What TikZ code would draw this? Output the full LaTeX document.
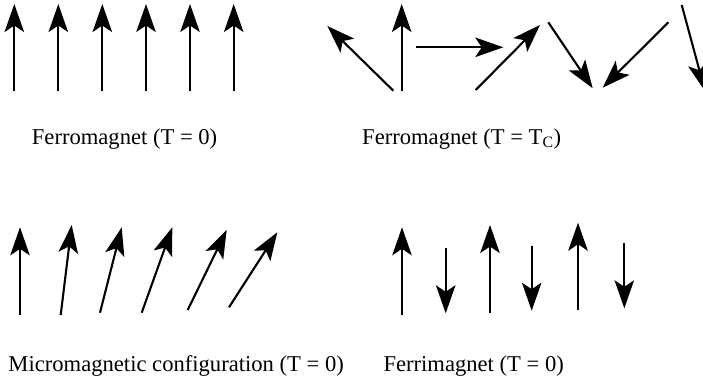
\documentclass[tikz,border=0pt]{standalone}
\usepackage{fontspec}
\setmainfont{Liberation Serif}
\usetikzlibrary{arrows.meta}
\tikzset{
  spin/.style={line width=2.1pt, -{Stealth[length=28pt, width=19.5pt, inset=6.5pt]}},
  lbl/.style={anchor=base west, inner sep=0pt, font=\fontsize{22.6pt}{26pt}\selectfont}
}
\begin{document}
\begin{tikzpicture}[x=1pt,y=-1pt]
\useasboundingbox (0,0) rectangle (703,385);
\clip (0,0) rectangle (703,385);
% Ferromagnet T=0
\foreach \x in {14.3,58.3,102.3,146,190,233.7} \draw[spin] (\x,90.7) -- (\x,4);
% Ferromagnet T=Tc
\draw[spin] (393.3,90.7) -- (327.3,26);
\draw[spin] (401.7,90.7) -- (401.7,4);
\draw[spin] (416,47.3) -- (503.3,47.3);
\draw[spin] (475.7,90) -- (540,25);
\draw[spin] (548.3,22.3) -- (592.7,88.3);
\draw[spin] (668.3,22.3) -- (602.7,87.7);
\draw[spin] (681.7,5) -- (705,91);
% Micromagnetic
\draw[spin] (20,315) -- (20,227.3);
\draw[spin] (60.7,315) -- (71.7,225);
\draw[spin] (100,312.7) -- (121.7,227.3);
\draw[spin] (141.7,312.7) -- (172.3,227.3);
\draw[spin] (187.7,310) -- (226.7,230);
\draw[spin] (229,307.3) -- (277.3,232.3);
% Ferrimagnet
\draw[spin] (402,315) -- (402,227.3);
\draw[spin] (445.7,248.3) -- (445.7,313.3);
\draw[spin] (490,312.7) -- (490,225);
\draw[spin] (531.7,245.7) -- (531.7,310.7);
\draw[spin] (578,310) -- (578,222.7);
\draw[spin] (624.3,243.3) -- (624.3,308.3);
% labels
\node[lbl] (l1) at (31.7,144.3) {Ferromagnet (T = 0)};
\node[lbl] (l2) at (362,144.3) {Ferromagnet (T = T\textsubscript{C})};
\node[lbl] (l3) at (8.3,371.7) {Micromagnetic configuration (T = 0)};
\node[lbl] (l4) at (383.3,371.7) {Ferrimagnet (T = 0)};
\end{tikzpicture}
\end{document}
